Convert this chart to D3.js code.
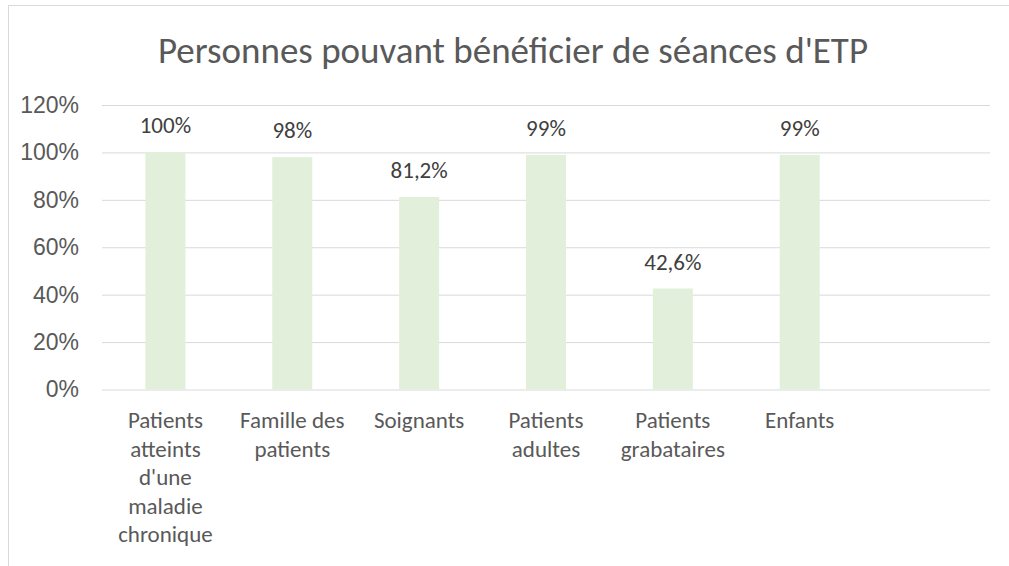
<!DOCTYPE html>
<html>
<head>
<meta charset="utf-8">
<script src="https://cdn.jsdelivr.net/npm/d3@7"></script>
<style>
    body { margin: 0; background: #fff; }
    svg { display: block; font-family: Calibri, Carlito, "Open Sans", sans-serif; }
</style>
</head>
<body>
<div id="chart"></div>
<script>
const chartTitle = "Personnes pouvant bénéficier de séances d'ETP";
// last slot is empty in the original sheet
const categories = [
    "Patients atteints d'une maladie chronique",
    "Famille des patients",
    "Soignants",
    "Patients adultes",
    "Patients grabataires",
    "Enfants",
    ""
];
const values = [1.00, 0.98, 0.812, 0.99, 0.426, 0.99, null];
const yTicks = [0, 0.2, 0.4, 0.6, 0.8, 1.0, 1.2];

const width = 1009, height = 566;
const plot = { left: 102, right: 990, top: 105, bottom: 389.5 };

const fr = d3.formatLocale({ decimal: ",", thousands: " ", grouping: [3], currency: ["", " €"] });
const fmtLabel = fr.format(".1~%");
const fmtTick = fr.format(".0%");

const svg = d3.select('#chart')
    .append('svg')
    .attr('width', width)
    .attr('height', height);

// chart frame (cut off by the crop on the right and bottom)
svg.append('rect')
    .attr('x', 8.5)
    .attr('y', 5.5)
    .attr('width', width + 20)
    .attr('height', height + 20)
    .attr('fill', 'none')
    .attr('stroke', '#d9d9d9');

const bandPad = 1 - 40 / ((plot.right - plot.left) / categories.length);
const x = d3.scaleBand()
    .domain(categories)
    .range([plot.left, plot.right])
    .paddingInner(bandPad)
    .paddingOuter(bandPad / 2);

const y = d3.scaleLinear()
    .domain([0, 1.2])
    .range([plot.bottom, plot.top]);

svg.append('text')
    .attr('x', 513)
    .attr('y', 63)
    .attr('text-anchor', 'middle')
    .attr('fill', '#595959')
    .style('font-size', '37px')
    .text(chartTitle);

// gridlines + y labels
const yAxis = svg.append('g')
    .attr('transform', `translate(${plot.left},0)`)
    .call(d3.axisLeft(y)
        .tickValues(yTicks)
        .tickSize(-(plot.right - plot.left))
        .tickPadding(23)
        .tickFormat(fmtTick));

yAxis.select('.domain').remove();
yAxis.selectAll('line').attr('stroke', '#d9d9d9').attr('stroke-width', 1);
yAxis.selectAll('text')
    .attr('fill', '#595959')
    .style('font-size', '23px')
    .style('font-family', 'inherit');

const barData = categories.map((c, i) => ({ cat: c, value: values[i] }))
    .filter(d => d.value != null);

svg.append('g')
    .selectAll('rect')
    .data(barData)
    .enter().append('rect')
    .attr('x', d => x(d.cat))
    .attr('y', d => y(d.value))
    .attr('width', x.bandwidth())
    .attr('height', d => y(0) - y(d.value))
    .attr('fill', '#e2efda');

svg.append('g')
    .selectAll('text')
    .data(barData)
    .enter().append('text')
    .attr('x', d => x(d.cat) + x.bandwidth() / 2)
    .attr('y', d => y(d.value) - 19)
    .attr('text-anchor', 'middle')
    .attr('fill', '#404040')
    .style('font-size', '23px')
    .text(d => fmtLabel(d.value));

// category labels, wrapped word by word like Excel does
const catG = svg.append('g');
const maxLineWidth = 116;
categories.forEach(c => {
    if (!c) return;
    const cx = x(c) + x.bandwidth() / 2;
    const t = catG.append('text')
        .attr('x', cx)
        .attr('y', 428)
        .attr('text-anchor', 'middle')
        .attr('fill', '#595959')
        .style('font-size', '23px');
    const words = c.split(' ');
    let line = [];
    let tspan = t.append('tspan').attr('x', cx).attr('dy', 0);
    words.forEach(w => {
        line.push(w);
        tspan.text(line.join(' '));
        if (tspan.node().getComputedTextLength() > maxLineWidth && line.length > 1) {
            line.pop();
            tspan.text(line.join(' '));
            line = [w];
            tspan = t.append('tspan').attr('x', cx).attr('dy', 28.5).text(w);
        }
    });
});
</script>
</body>
</html>
